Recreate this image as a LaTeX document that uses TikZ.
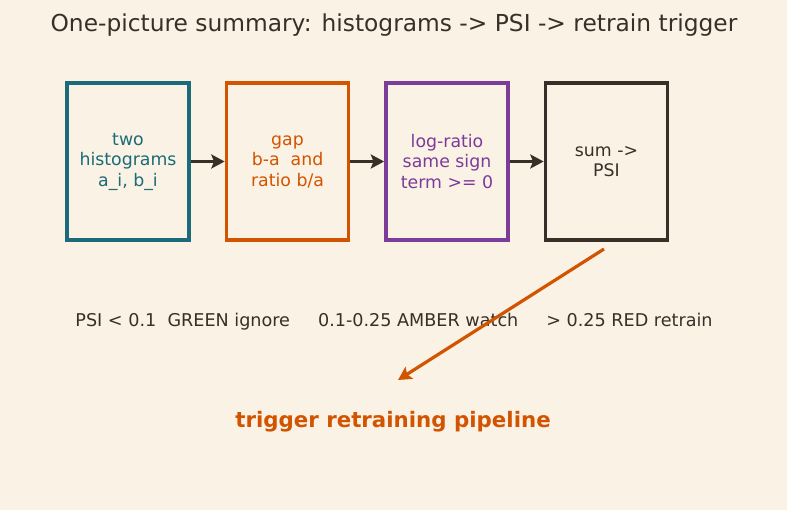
\documentclass[tikz,border=0pt]{standalone}
\usepackage{fontspec}
\setmainfont{DejaVu Sans}
\usetikzlibrary{arrows.meta}
\definecolor{paper}{HTML}{FAF2E4}
\definecolor{ink}{HTML}{3A2F28}
\definecolor{teal}{HTML}{1B6B78}
\definecolor{rust}{HTML}{D35400}
\definecolor{plum}{HTML}{7D3C98}
\tikzset{
  stage/.style={draw, line width=2.8pt, minimum width=91.5pt, minimum height=117.75pt,
    align=center, font=\fontsize{13}{15.4}\selectfont, inner sep=2pt},
  flow/.style={draw=ink, line width=2.4pt, -{Stealth[length=10pt,width=10.5pt,inset=2pt]}}
}
\begin{document}
\begin{tikzpicture}[x=0.75pt, y=-0.75pt]
\useasboundingbox[fill=paper] (0,0) rectangle (787,510);
\node[text=ink, font=\fontsize{17.5}{20}\selectfont] (title) at (394,25) {One-picture summary: histograms -> PSI -> retrain trigger};
\node[stage, draw=teal, text=teal] (hist) at (128,161.5) {two\\histograms\\a\_i, b\_i};
\node[stage, draw=rust, text=rust] (gap) at (287.5,161.5) {gap\\b-a\ \ and\\ratio b/a};
\node[stage, draw=plum, text=plum] (logr) at (447,161.5) {log-ratio\\same sign\\term >= 0};
\node[stage, draw=ink, text=ink] (psi) at (606.5,161.5) {sum ->\\PSI};
\node[text=ink, font=\fontsize{13.2}{15}\selectfont] (bands) at (394,321.5) {PSI < 0.1\ \ GREEN ignore\hspace{21pt}0.1-0.25 AMBER watch\hspace{21pt}> 0.25 RED retrain};
\node[text=rust, font=\bfseries\fontsize{16}{19}\selectfont] (pipe) at (393,422) {trigger retraining pipeline};
\coordinate (from) at (604,249);
\coordinate (to) at (398,380);
\path[flow] (hist) -- (gap);
\path[flow] (gap) -- (logr);
\path[flow] (logr) -- (psi);
\path[flow, draw=rust] (from) -- (to);
\end{tikzpicture}
\end{document}
